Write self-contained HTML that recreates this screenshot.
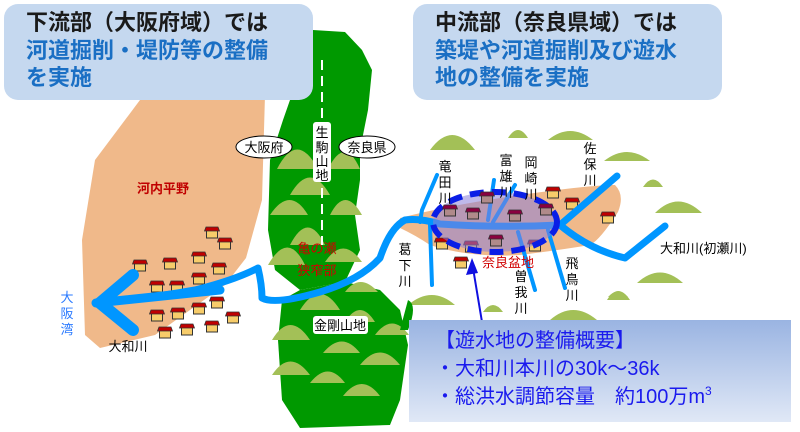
<!DOCTYPE html>
<html><head><meta charset="utf-8"><style>
body{margin:0;background:#fff}
svg{display:block}
text{font-family:"Liberation Sans","Noto Sans CJK JP",sans-serif}
</style></head><body>
<svg width="800" height="432" viewBox="0 0 800 432" xmlns="http://www.w3.org/2000/svg">
<defs>
<symbol id="h" viewBox="0 0 16 13">
<rect x="2.5" y="4" width="11" height="8" fill="#f7cc6a" stroke="#333" stroke-width="1"/>
<path d="M0.5 5 L2 1 L14 1 L15.5 5 Z" fill="#c00000" stroke="#333" stroke-width="0.8"/>
</symbol>
<symbol id="hp" viewBox="0 0 16 13">
<rect x="2.5" y="4" width="11" height="8" fill="#b08a8a" stroke="#333" stroke-width="1"/>
<path d="M0.5 5 L2 1 L14 1 L15.5 5 Z" fill="#8a0040" stroke="#333" stroke-width="0.8"/>
</symbol>
<linearGradient id="g" x1="0" y1="0" x2="0" y2="1"><stop offset="0" stop-color="#9ab4e2"/><stop offset="1" stop-color="#e0e8f6"/></linearGradient>
</defs>
<!-- Kawachi plain -->
<path d="M140,100 L265,95 L262,200 L246,258 L225,285 L155,335 L100,348 L85,335 L82,240 L95,160 Z" fill="#f0b98a"/>
<!-- Ikoma green -->
<path d="M313,30 L345,32 L362,50 L372,70 L368,110 L360,150 L360,180 L355,215 L360,250 L345,282 L300,290 L275,270 L268,230 L270,160 L283,120 L290,100 L300,60 Z" fill="#009900"/>
<!-- Kongo green -->
<path d="M300,290 L345,282 L380,290 L400,310 L408,345 L400,400 L390,425 L300,428 L282,400 L278,340 L282,300 Z" fill="#009900"/>
<!-- mountains on green -->
<g fill="#a3c057">
<path d="M277,169 Q297,130 318,169Z"/><path d="M328,169 Q345,135 360,169Z"/>
<path d="M290,195 Q310,160 330,195Z"/><path d="M270,215 Q290,185 308,215Z"/>
<path d="M330,215 Q345,185 362,215Z"/><path d="M290,245 Q308,210 325,245Z"/>
<path d="M268,265 Q288,230 305,265Z"/><path d="M325,262 Q343,235 362,262Z"/>
<path d="M300,310 Q320,278 340,310Z"/><path d="M345,292 Q360,272 378,292Z"/>
<path d="M272,340 Q290,310 310,340Z"/><path d="M345,322 Q360,298 375,322Z"/>
<path d="M375,335 Q392,312 409,335Z"/><path d="M323,353 Q342,330 360,353Z"/>
<path d="M272,375 Q290,348 310,375Z"/><path d="M360,365 Q380,340 400,365Z"/>
<path d="M310,383 Q328,360 345,383Z"/><path d="M343,396 Q362,372 380,396Z"/>
</g>
<!-- divider dashed -->
<line x1="322" y1="60" x2="322" y2="245" stroke="#fff" stroke-width="2" stroke-dasharray="10,6"/>
<!-- Nara basin orange -->
<path d="M400,218 Q450,205 520,195 Q590,185 615,185 Q625,195 618,212 Q600,240 590,245 Q560,250 520,255 Q470,258 430,245 Q415,235 400,228 Z" fill="#f0b98a"/>
<!-- mountains nara -->
<g fill="#a3c057">
<path d="M430,150 Q452,120 475,150Z"/><path d="M508,138 Q518,122 528,138Z"/>
<path d="M548,140 Q570,122 593,140Z"/><path d="M604,161 Q627,143 650,161Z"/>
<path d="M643,187 Q653,172 663,187Z"/><path d="M655,213 Q678,190 702,213Z"/>
<path d="M637,283 Q660,262 683,283Z"/><path d="M607,300 Q618,282 630,300Z"/>
<path d="M408,305 Q432,285 455,305Z"/><path d="M483,312 Q493,298 503,312Z"/>
<path d="M550,320 Q573,300 597,320Z"/><path d="M608,297 Q618,286 628,297Z"/>
<path d="M400,330 L408,300 Q418,305 408,330Z" fill="#009900"/>
</g>
<!-- houses left -->
<g>
<use href="#h" x="204" y="226" width="16" height="13"/><use href="#h" x="217" y="237" width="16" height="13"/>
<use href="#h" x="191" y="251" width="16" height="13"/><use href="#h" x="211" y="262" width="16" height="13"/>
<use href="#h" x="132" y="259" width="16" height="13"/><use href="#h" x="162" y="257" width="16" height="13"/>
<use href="#h" x="191" y="272" width="16" height="13"/><use href="#h" x="149" y="280" width="16" height="13"/>
<use href="#h" x="169" y="280" width="16" height="13"/><use href="#h" x="209" y="296" width="16" height="13"/>
<use href="#h" x="149" y="309" width="16" height="13"/><use href="#h" x="170" y="307" width="16" height="13"/>
<use href="#h" x="191" y="302" width="16" height="13"/><use href="#h" x="225" y="311" width="16" height="13"/>
<use href="#h" x="157" y="326" width="16" height="13"/><use href="#h" x="179" y="323" width="16" height="13"/>
<use href="#h" x="204" y="320" width="16" height="13"/>
</g>
<!-- houses nara outside -->
<use href="#h" x="545" y="186" width="16" height="13"/><use href="#h" x="564" y="197" width="16" height="13"/>
<use href="#h" x="600" y="211" width="16" height="13"/><use href="#h" x="434" y="237" width="16" height="13"/>
<use href="#h" x="527" y="239" width="16" height="13"/><use href="#h" x="453" y="256" width="16" height="13"/>
<use href="#h" x="463" y="240" width="16" height="13"/>
<!-- main river -->
<g fill="none" stroke="#0096ff" stroke-linecap="round" stroke-linejoin="round">
<path d="M100,303 Q150,298 195,290 Q235,280 258,268 Q262,285 262,298 Q275,305 320,292 Q360,280 380,258 Q390,228 405,220 Q420,218 440,224 Q500,228 560,225 L617,176" stroke-width="7"/>
<path d="M560,225 Q590,250 625,258 L665,226" stroke-width="7"/>
<path d="M133,275 L100,303 L133,330" stroke-width="12"/>
<path d="M96,303 L220,290" stroke-width="9"/>
<!-- tributaries -->
<path d="M437,175 L422,210 L420,222" stroke-width="4"/>
<path d="M430,225 L432,285" stroke-width="4"/>
<path d="M494,180 L488,220" stroke-width="4"/><path d="M515,185 L493,222" stroke-width="4"/>
<path d="M518,232 L535,290" stroke-width="4"/><path d="M548,230 L565,288" stroke-width="4"/>
</g>
<!-- ellipse -->
<ellipse cx="495" cy="222" rx="62" ry="30" fill="#8a80d8" fill-opacity="0.55" stroke="#0a1ee6" stroke-width="6" stroke-dasharray="14,8"/>
<g>
<use href="#hp" x="442" y="204" width="16" height="13"/><use href="#hp" x="465" y="207" width="16" height="13"/>
<use href="#hp" x="479" y="191" width="16" height="13"/><use href="#hp" x="507" y="209" width="16" height="13"/>
<use href="#hp" x="538" y="203" width="16" height="13"/><use href="#hp" x="488" y="234" width="16" height="13"/>
</g>
<!-- pointer -->
<line x1="472" y1="262" x2="482" y2="322" stroke="#1010e0" stroke-width="2"/>
<path d="M472,258 L466,275 L478,273Z" fill="#1010e0"/>
<!-- labels -->
<ellipse cx="264" cy="147" rx="28" ry="11" fill="#fff" stroke="#000" stroke-width="1"/>
<text x="264" y="152" font-size="13" text-anchor="middle">大阪府</text>
<ellipse cx="367" cy="147" rx="28" ry="11" fill="#fff" stroke="#000" stroke-width="1"/>
<text x="367" y="152" font-size="13" text-anchor="middle">奈良県</text>
<rect x="313" y="122" width="18" height="60" rx="3" fill="#fff"/>
<g font-size="13" text-anchor="middle"><text x="322" y="137">生</text><text x="322" y="152">駒</text><text x="322" y="166">山</text><text x="322" y="180">地</text></g>
<text x="163" y="193" font-size="13" fill="#c00000" font-weight="bold" text-anchor="middle">河内平野</text>
<g font-size="13" fill="#d00000" text-anchor="middle"><text x="317" y="253">亀の瀬</text><text x="317" y="275">狭窄部</text></g>
<rect x="313" y="316" width="55" height="18" rx="3" fill="#fff"/>
<text x="340" y="330" font-size="13" text-anchor="middle">金剛山地</text>
<g font-size="13" fill="#2a7aff" text-anchor="middle"><text x="67" y="302">大</text><text x="67" y="318">阪</text><text x="67" y="334">湾</text></g>
<text x="128" y="351" font-size="13" text-anchor="middle">大和川</text>
<g font-size="13" text-anchor="middle">
<text x="445" y="171">竜</text><text x="445" y="187">田</text><text x="445" y="203">川</text>
<text x="506" y="165">富</text><text x="506" y="181">雄</text><text x="506" y="197">川</text>
<text x="531" y="167">岡</text><text x="531" y="183">崎</text><text x="531" y="199">川</text>
<text x="590" y="153">佐</text><text x="590" y="169">保</text><text x="590" y="185">川</text>
<text x="405" y="254">葛</text><text x="405" y="270">下</text><text x="405" y="286">川</text>
<text x="521" y="281">曽</text><text x="521" y="297">我</text><text x="521" y="313">川</text>
<text x="572" y="268">飛</text><text x="572" y="284">鳥</text><text x="572" y="300">川</text>
</g>
<text x="660" y="253" font-size="13">大和川(初瀬川)</text>
<text x="508" y="267" font-size="13" fill="#d00000" text-anchor="middle">奈良盆地</text>
<!-- callouts -->
<rect x="4" y="4" width="309" height="96" rx="14" fill="#c5d8ef"/>
<g font-size="22" font-weight="bold">
<text x="26" y="30" fill="#1a1a1a">下流部（大阪府域）では</text>
<text x="26" y="58" fill="#1a6fc4">河道掘削・堤防等の整備</text>
<text x="26" y="85" fill="#1a6fc4">を実施</text>
</g>
<rect x="413" y="4" width="309" height="96" rx="14" fill="#c5d8ef"/>
<g font-size="22" font-weight="bold">
<text x="435" y="30" fill="#1a1a1a">中流部（奈良県域）では</text>
<text x="435" y="58" fill="#1a6fc4">築堤や河道掘削及び遊水</text>
<text x="435" y="85" fill="#1a6fc4">地の整備を実施</text>
</g>
<!-- info box -->
<rect x="409" y="320" width="382" height="102" fill="url(#g)"/>
<g font-size="20" fill="#1a1aee">
<text x="435" y="347">【遊水地の整備概要】</text>
<text x="435" y="375">・大和川本川の30k～36k</text>
<text x="435" y="403">・総洪水調節容量　約100万m<tspan font-size="12" dy="-8">3</tspan></text>
</g>
</svg>
</body></html>
